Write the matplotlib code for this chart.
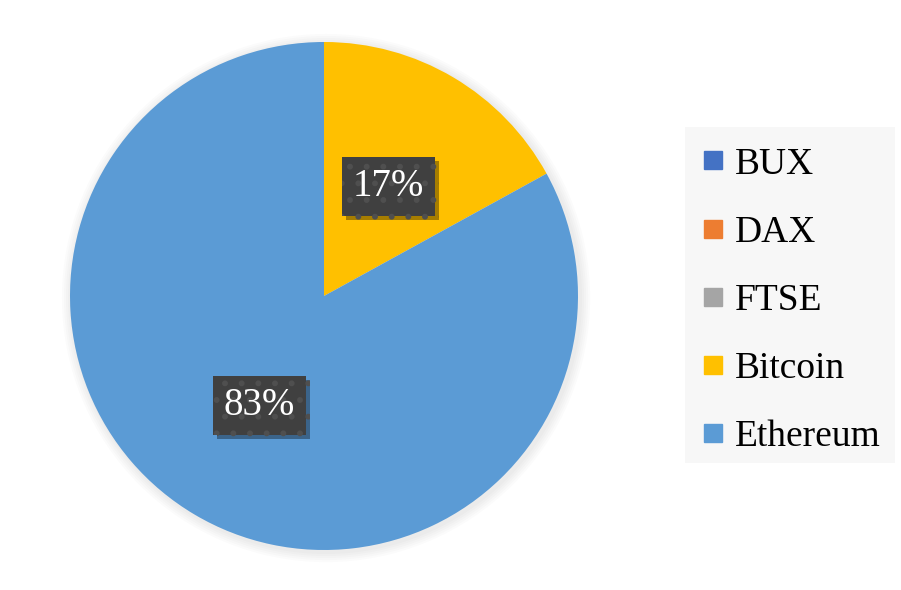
import matplotlib
matplotlib.use("Agg")
import matplotlib.pyplot as plt
import matplotlib.patheffects as pe
from matplotlib.lines import Line2D
from matplotlib.patches import Rectangle
import numpy as np

categories = ["BUX", "DAX", "FTSE", "Bitcoin", "Ethereum"]
values = [0, 0, 0, 17, 83]
colors = ["#4472C4", "#ED7D31", "#A5A5A5", "#FFC000", "#5B9BD5"]

plt.rcParams['font.family'] = ['Liberation Serif', 'DejaVu Serif']
plt.rcParams['hatch.linewidth'] = 1.8

W, H = 901, 590
fig = plt.figure(figsize=(W / 100, H / 100), dpi=100)
fig.patch.set_facecolor('white')

cx, cy, r = 324, 296, 254
ax = fig.add_axes([(cx - r) / W, (H - cy - r) / H, 2 * r / W, 2 * r / H])

# soft shadow behind pie
for i in range(5):
    c = plt.Circle((0.008, -0.008), 1.0 + 0.008 * (i + 1), color='black',
                   alpha=0.015, lw=0, clip_on=False)
    ax.add_patch(c)

wedges, _ = ax.pie(values, colors=colors, startangle=90, counterclock=False,
                   radius=1.0, wedgeprops=dict(linewidth=0))
ax.set_xlim(-1, 1)
ax.set_ylim(-1, 1)
ax.set_aspect('equal')
ax.axis('off')

total = sum(values)
angle = 90.0
for v in values:
    span = 360.0 * v / total
    if v > 0:
        mid = np.deg2rad(angle - span / 2)
        x, y = 0.5 * np.cos(mid), 0.5 * np.sin(mid)
        txt = f"{v / total * 100:.0f}%"
        t = ax.text(x, y, txt, ha='center', va='center', fontsize=28, color='white',
                    bbox=dict(boxstyle='square,pad=0.28', facecolor='#404040',
                              edgecolor='#4f4f4f', hatch='.', linewidth=0))
        t.get_bbox_patch().set_path_effects(
            [pe.SimplePatchShadow(offset=(3, -3), shadow_rgbFace='black', alpha=0.35),
             pe.Normal()])
    angle -= span

# legend background
fig.patches.append(Rectangle((685 / W, 1 - 463 / H), 210 / W, 336 / H,
                             transform=fig.transFigure, facecolor='#f7f7f7',
                             edgecolor='none', zorder=0))

handles = [Line2D([0], [0], marker='s', linestyle='none', markersize=12.5,
                  markerfacecolor=c, markeredgecolor=c) for c in colors]
leg = fig.legend(handles, categories, loc='upper left',
                 bbox_to_anchor=(702 / W, 1 - 147 / H), fontsize=27,
                 frameon=False, labelspacing=0.9, handlelength=0.6,
                 handletextpad=0.28, borderpad=0.0, borderaxespad=0)

fig.savefig("out.png", dpi=100, facecolor='white')
